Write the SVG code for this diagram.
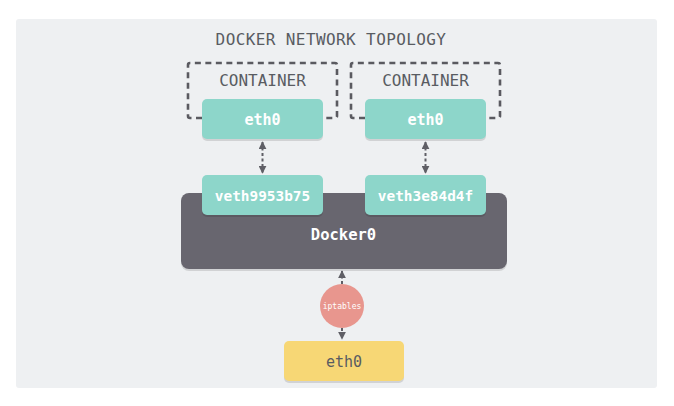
<svg xmlns="http://www.w3.org/2000/svg" width="674" height="406" viewBox="0 0 674 406">
<style>
.mono{font-family:"DejaVu Sans Mono","Liberation Mono",monospace;text-anchor:middle}
.dark{fill:#595c62}
.light{fill:#ffffff;font-weight:bold}
.teal{fill:#8dd6ca}
.shadow{fill:#000;opacity:0.12}
.cont{fill:none;stroke:#5a5a60;stroke-width:2.6;stroke-dasharray:6 4.5}
.link{stroke:#5f5f66;stroke-width:2;stroke-dasharray:3 2.5;fill:none}
</style>
<defs>
<marker id="ah" viewBox="0 0 10 10" refX="9" refY="5" markerWidth="4" markerHeight="4" orient="auto-start-reverse">
<path d="M0,0 L10,5 L0,10 z" fill="#5f5f66"/>
</marker>
</defs>
<rect x="0" y="0" width="674" height="406" fill="#ffffff"/>
<rect x="16" y="19" width="641" height="369" rx="3" fill="#eef0f2"/>
<text class="mono dark" x="331" y="45" font-size="16" letter-spacing="0.4">DOCKER NETWORK TOPOLOGY</text>

<g id="container-1">
<path class="cont" d="M202,118 L190,118 Q188,118 188,116 L188,65 Q188,63 190,63 L335,63 Q337,63 337,65 L337,116 Q337,118 335,118 L323,118"/>
<text class="mono dark" x="262.5" y="86" font-size="16">CONTAINER</text>
</g>
<g id="container-2">
<path class="cont" d="M365,118 L353,118 Q351,118 351,116 L351,65 Q351,63 353,63 L498,63 Q500,63 500,65 L500,116 Q500,118 498,118 L486,118"/>
<text class="mono dark" x="425.5" y="86" font-size="16">CONTAINER</text>
</g>

<g id="docker0">
<rect class="shadow" x="181" y="195" width="326" height="76" rx="8"/>
<rect x="181" y="193" width="326" height="76" rx="8" fill="#68666f"/>
<text class="mono light" x="343.5" y="240" font-size="15.5">Docker0</text>
</g>

<g id="eth0-c1">
<rect class="shadow" x="202" y="101" width="121" height="40" rx="5"/>
<rect class="teal" x="202" y="99" width="121" height="40" rx="5"/>
<text class="mono light" x="262.5" y="125" font-size="15">eth0</text>
</g>
<g id="eth0-c2">
<rect class="shadow" x="365" y="101" width="121" height="40" rx="5"/>
<rect class="teal" x="365" y="99" width="121" height="40" rx="5"/>
<text class="mono light" x="425.5" y="125" font-size="15">eth0</text>
</g>
<g id="veth9953b75">
<rect class="shadow" x="202" y="177" width="121" height="40" rx="5"/>
<rect class="teal" x="202" y="175" width="121" height="40" rx="5"/>
<text class="mono light" x="262.5" y="201" font-size="14.4">veth9953b75</text>
</g>
<g id="veth3e84d4f">
<rect class="shadow" x="365" y="177" width="121" height="40" rx="5"/>
<rect class="teal" x="365" y="175" width="121" height="40" rx="5"/>
<text class="mono light" x="425.5" y="201" font-size="14.4">veth3e84d4f</text>
</g>

<g id="iptables">
<circle cx="342" cy="306" r="22" fill="#e8968e"/>
<text class="mono" x="342" y="309" font-size="8" fill="#ffffff">iptables</text>
</g>
<g id="eth0-host">
<rect class="shadow" x="284" y="343" width="120" height="40" rx="5"/>
<rect x="284" y="341" width="120" height="40" rx="5" fill="#f7d775"/>
<text class="mono dark" x="344" y="367" font-size="15">eth0</text>
</g>

<g id="connectors">
<line class="link" x1="262.5" y1="142" x2="262.5" y2="173" marker-start="url(#ah)" marker-end="url(#ah)"/>
<line class="link" x1="425.5" y1="142" x2="425.5" y2="173" marker-start="url(#ah)" marker-end="url(#ah)"/>
<line class="link" x1="342" y1="284" x2="342" y2="271" marker-end="url(#ah)"/>
<line class="link" x1="342" y1="328" x2="342" y2="339" marker-end="url(#ah)"/>
</g>
</svg>
